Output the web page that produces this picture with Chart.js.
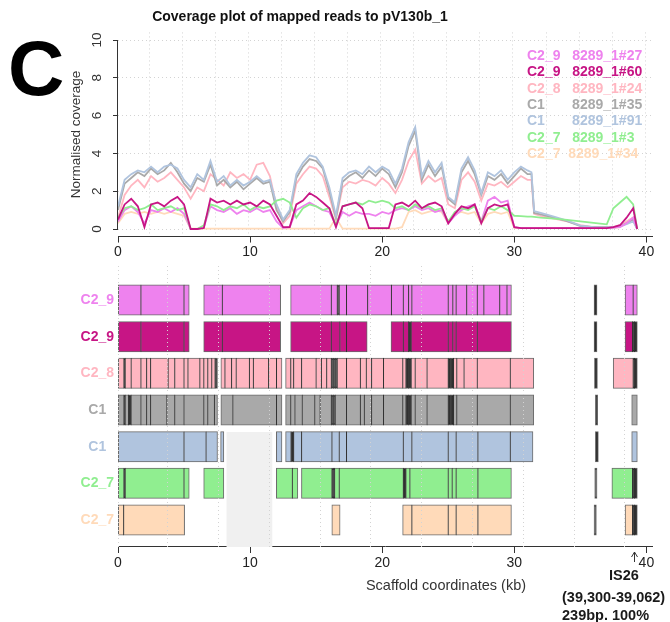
<!DOCTYPE html>
<html>
<head>
<meta charset="utf-8">
<title>Coverage plot of mapped reads to pV130b_1</title>
<script src="https://cdn.jsdelivr.net/npm/chart.js@4.4.1/dist/chart.umd.min.js"></script>
<style>
  html, body { margin: 0; padding: 0; background: #fff; }
  #fig { position: relative; width: 670px; height: 622px; overflow: hidden;
         font-family: "Liberation Sans", Arial, sans-serif; color: #222; }
  #fig canvas { position: absolute; left: 0; }
  #covChart { top: 0; }
  #blkChart { top: 262px; }
  .t { position: absolute; white-space: pre; line-height: 1; }
  #panel { left: 8px; top: 29px; font-size: 78px; font-weight: bold; color: #000; }
  #title { left: 150px; width: 300px; top: 9px; text-align: center; font-size: 14px; font-weight: bold; color: #111; }
  .leg { left: 527px; font-size: 14px; font-weight: bold; }
  #xlab { left: 346px; width: 200px; top: 578px; text-align: center; font-size: 14.5px; color: #333; }
  .is26 { font-size: 14.5px; font-weight: bold; color: #1a1a1a; }
  #isName { left: 574px; width: 100px; top: 568px; text-align: center; }
  #isRange { left: 562px; top: 590px; }
  #isInfo { left: 562px; top: 608px; }
</style>
</head>
<body>
<div id="fig">
  <canvas id="covChart" width="670" height="262"></canvas>
  <canvas id="blkChart" width="670" height="360"></canvas>
  <div class="t" id="panel">C</div>
  <div class="t" id="title">Coverage plot of mapped reads to pV130b_1</div>
  <div id="legend"></div>
  <div class="t" id="xlab">Scaffold coordinates (kb)</div>
  <div class="t is26" id="isName">IS26</div>
  <div class="t is26" id="isRange">(39,300-39,062)</div>
  <div class="t is26" id="isInfo">239bp. 100%</div>
</div>
<script>
/* ---------- samples / lanes ---------- */
const samples = ['C2_9', 'C2_9', 'C2_8', 'C1', 'C1', 'C2_7', 'C2_7'];
const lanes = ['8289_1#27', '8289_1#60', '8289_1#24', '8289_1#35', '8289_1#91', '8289_1#3', '8289_1#34'];
const laneColors = ['#EE82EE', '#C71585', '#FFB6C1', '#A9A9A9', '#B0C4DE', '#90EE90', '#FFDAB9'];
// legend lines, padded the way they were pasted together
const legendText = ['C2_9   8289_1#27', 'C2_9   8289_1#60', 'C2_8   8289_1#24', 'C1       8289_1#35',
                    'C1       8289_1#91', 'C2_7   8289_1#3', 'C2_7  8289_1#34'];
// which coverage line sits on top (0 = drawn last)
const drawOrder = [2, 0, 5, 4, 3, 1, 6];

/* ---------- axes ---------- */
const xTicks = [0, 10, 20, 30, 40];
const yTicks = [0, 2, 4, 6, 8, 10];
const covGridKb = [2.4, 4.9, 7.4, 9.9, 12.4, 14.9, 17.4, 19.9, 22.4, 24.9, 27.4, 29.9, 32.4, 34.9, 37.4, 39.9];
const blkGridKb = [0, 3.77, 7.61, 11.46, 15.3, 19.15, 23.0, 26.84, 30.69, 34.53, 38.38];

/* ---------- normalised coverage (kb positions + one array per lane) ---------- */
const kb = [0, 0.5, 1, 1.5, 2, 2.5, 3, 3.5, 4, 4.5, 5, 5.5, 6, 6.5, 7, 7.5, 8, 8.5, 9, 9.5,
            10, 10.5, 11, 11.5, 12, 12.5, 13, 13.5, 14, 14.5, 15, 15.5, 16, 16.5, 17, 17.5, 18, 18.5, 19, 19.5,
            20, 20.5, 21, 21.5, 22, 22.5, 23, 23.5, 24, 24.5, 25, 25.5, 26, 26.5, 27, 27.5, 28, 28.5, 29, 29.5,
            30, 30.5, 31, 31.3, 31.5, 32, 33, 34, 35, 36, 37, 37.5, 38, 38.5, 39, 39.3];

const cov27 = [0.4, 1.0, 1.2, 0.9, 0.3, 1.0, 0.9, 1.1, 0.9, 1.1,
               0.8, 0.0, 0.0, 0.1, 1.2, 1.0, 0.9, 1.1, 0.8, 1.0,
               0.9, 1.1, 0.9, 1.0, 0.4, 0.05, 0.1, 1.0, 1.2, 1.4,
               1.2, 1.0, 0.9, 0.2, 0.9, 0.7, 0.9, 0.8, 0.8, 0.7,
               0.9, 0.8, 1.0, 1.1, 1.0, 1.2, 1.0, 1.1, 0.9, 1.0,
               0.3, 0.7, 1.0, 1.2, 1.3, 0.4, 1.5, 1.7, 1.4, 1.5,
               0.1, 0.05, 0.05,
               0.05, 0.05, 0.05, 0.05, 0.05, 0.05, 0.05, 0.05, 0.08, 0.1, 0.3, 0.6, 0];
const cov60 = [0.5, 1.3, 1.6, 1.2, 0.1, 1.3, 1.4, 1.2, 1.5, 1.7,
               1.3, 0.0, 0.0, 0.05, 1.6, 1.4, 1.5, 1.3, 1.5, 1.3,
               1.4, 1.2, 1.5, 1.3, 0.7, 0.1, 0.1, 1.3, 1.5, 1.9,
               1.7, 1.4, 1.1, 0.1, 1.2, 1.3, 1.4, 1.1, 0.05, 0.05,
               0.05, 0.05, 1.3, 1.4, 1.2, 1.5, 1.1, 1.3, 1.4, 1.2,
               0.3, 0.8, 1.2, 1.1, 1.3, 0.3, 1.1, 1.3, 1.2, 1.3,
               0.1, 0.05, 0.05,
               0.05, 0.05, 0.05, 0.05, 0.05, 0.05, 0.05, 0.05, 0.1, 0.2, 0.6, 1.1, 0];
const cov24 = [0.6, 1.8, 2.3, 2.6, 2.2, 2.8, 2.5, 2.7, 3.0, 2.6,
               2.2, 1.6, 2.2, 2.0, 2.9, 2.6, 2.3, 3.0, 2.7, 2.9,
               2.6, 3.4, 3.5, 2.8, 1.2, 0.3, 0.7, 2.4, 2.9, 3.3,
               3.2, 2.8, 1.7, 0.5, 2.2, 2.5, 2.4, 2.6, 2.5, 2.3,
               2.7, 2.4, 1.9, 2.6, 3.6, 4.2, 2.4, 2.8, 2.5, 2.7,
               1.3, 1.1, 2.6, 3.0, 2.5, 1.5, 2.4, 2.3, 2.5, 2.2,
               2.5, 2.8, 2.6,
               2.6, 0.8, 0.7, 0.55, 0.4, 0.2, 0.1, 0.1, 0.1, 0.2, 0.4, 0.6, 0];
const cov35 = [1.0, 2.4, 2.7, 3.0, 2.8, 3.2, 2.9, 3.1, 3.5, 3.0,
               2.4, 2.0, 2.7, 2.5, 3.4, 2.3, 2.6, 2.2, 2.5, 2.1,
               2.4, 2.7, 2.4, 2.5, 1.0, 0.4, 0.9, 2.7, 3.3, 3.7,
               3.6, 3.2, 2.0, 0.6, 2.5, 2.8, 3.0, 2.7, 3.1, 2.8,
               3.2, 2.9, 2.2, 3.0, 4.4, 5.2, 2.6, 3.4, 2.8, 3.3,
               1.6, 1.3, 3.0, 3.6, 2.9, 1.8, 2.8, 2.6, 2.9, 2.4,
               2.8, 3.2, 2.9,
               2.9, 0.85, 0.78, 0.6, 0.42, 0.15, 0.1, 0.1, 0.1, 0.15, 0.3, 0.5, 0];
const cov91 = [1.2, 2.6, 2.9, 3.1, 3.0, 3.3, 3.0, 3.3, 3.4, 3.2,
               2.6, 2.2, 2.9, 2.6, 3.6, 2.5, 2.8, 2.3, 2.6, 2.3,
               2.5, 2.8, 2.5, 2.6, 1.3, 0.5, 1.0, 2.9, 3.5, 3.9,
               3.8, 3.3, 2.2, 0.7, 2.7, 3.0, 3.1, 2.9, 3.3, 3.0,
               3.3, 3.1, 2.4, 3.2, 4.6, 5.4, 2.8, 3.6, 3.0, 3.5,
               1.7, 1.4, 3.2, 3.8, 3.1, 1.9, 3.0, 2.8, 3.1, 2.6,
               3.0, 3.3, 3.1,
               3.0, 0.95, 0.85, 0.65, 0.45, 0.18, 0.1, 0.08, 0.08, 0.12, 0.25, 0.4, 0];
const cov3 = [0.6, 1.1, 1.2, 1.0, 1.1, 1.3, 1.0, 1.1, 1.2, 1.0,
              1.1, 0.0, 0.0, 0.2, 1.3, 1.2, 1.0, 1.2, 1.1, 1.3,
              1.0, 1.2, 1.1, 1.2, 1.5, 1.6, 1.4, 0.6, 1.1, 1.3,
              1.2, 1.0, 1.1, 0.2, 1.2, 1.3, 1.4, 1.3, 1.5, 1.4,
              1.5, 1.4, 1.1, 1.2, 1.0, 1.3, 1.1, 1.2, 1.0, 1.1,
              0.4, 0.9, 1.1, 1.0, 1.2, 0.4, 1.1, 1.0, 1.2, 1.0,
              0.7, 0.68, 0.66,
              0.65, 0.64, 0.6, 0.55, 0.48, 0.4, 0.32, 0.25, 1.1, 1.4, 1.7, 1.3, 0];
const cov34 = [0.3, 0.8, 0.9, 0.8, 0.9, 0.8, 0.9, 0.8, 0.9, 0.8,
               0.7, 0.02, 0.02, 0.02, 0.02, 0.02, 0.02, 0.02, 0.02, 0.02,
               0.02, 0.02, 0.02, 0.02, 0.02, 0.02, 0.02, 0.02, 0.02, 0.02,
               0.02, 0.02, 0.02, 0.6, 0.02, 0.02, 0.02, 0.02, 0.02, 0.02,
               0.02, 0.02, 0.02, 0.1, 0.9, 1.0, 0.8, 0.9, 1.0, 0.9,
               0.3, 0.8, 0.9, 0.8, 0.9, 0.3, 0.8, 0.9, 0.8, 0.9,
               0.05, 0.05, 0.05,
               0.05, 0.05, 0.05, 0.05, 0.05, 0.05, 0.05, 0.05, 0.05, 0.1, 0.4, 0.6, 0];
const coverage = [cov27, cov60, cov24, cov35, cov91, cov3, cov34];

/* ---------- mapped blocks per lane, [start, end] in kb ---------- */
const seg27 = [[0, 1.74], [1.74, 5.0], [5.0, 5.38],
  [6.5, 7.9], [7.9, 12.3],
  [13.08, 16.15], [16.15, 16.6], [16.6, 16.75], [16.75, 17.3], [17.3, 18.9], [18.9, 20.7], [20.7, 21.6],
  [21.6, 22.0], [22.0, 22.25], [22.25, 25.0], [25.0, 25.35], [25.35, 25.6], [25.6, 26.4], [26.4, 27.2],
  [27.2, 27.7], [27.7, 28.9], [28.9, 29.45], [29.45, 29.77],
  [36.05, 36.25],
  [38.4, 39.0], [39.0, 39.3]];
const seg60 = [[0, 1.74], [1.74, 5.0], [5.0, 5.38],
  [6.5, 7.9], [7.9, 12.3],
  [13.08, 16.15], [16.15, 16.8], [16.8, 17.3], [17.3, 18.85],
  [20.68, 21.6], [21.6, 22.0], [22.0, 22.2], [22.2, 25.0], [25.0, 25.35], [25.35, 25.6], [25.6, 27.2], [27.2, 29.77],
  [36.05, 36.25],
  [38.4, 38.95], [38.95, 39.1], [39.1, 39.3]];
const seg24 = [[0, 0.45], [0.45, 0.55], [0.55, 1.0], [1.0, 1.74], [1.74, 2.17], [2.17, 2.47], [2.47, 3.8], [3.8, 4.3],
  [4.3, 5.0], [5.0, 5.3], [5.3, 6.2], [6.2, 6.5], [6.5, 6.8], [6.8, 7.1], [7.1, 7.35], [7.35, 7.52],
  [7.8, 8.1], [8.1, 8.6], [8.6, 8.95], [8.95, 9.95], [9.95, 10.25], [10.25, 11.4], [11.4, 12.0], [12.0, 12.4],
  [12.7, 13.08], [13.08, 13.3], [13.3, 13.9], [13.9, 15.0], [15.0, 15.4], [15.4, 15.8], [15.8, 16.15], [16.15, 16.3],
  [16.3, 16.45], [16.45, 16.6], [16.6, 17.3], [17.3, 18.35], [18.35, 18.8], [18.8, 19.2], [19.2, 20.1], [20.1, 21.56],
  [21.56, 21.8], [21.8, 22.0], [22.0, 22.2], [22.2, 22.5], [22.5, 23.4], [23.4, 25.0], [25.0, 25.2], [25.2, 25.4],
  [25.4, 25.65], [25.65, 26.2], [26.2, 27.2], [27.2, 29.7], [29.7, 31.46],
  [36.08, 36.28],
  [37.5, 39.0], [39.0, 39.1], [39.1, 39.3]];
const seg35 = [[0, 0.45], [0.45, 0.55], [0.55, 0.8], [0.8, 1.0], [1.0, 1.74], [1.74, 2.17], [2.17, 2.47], [2.47, 3.7],
  [3.7, 4.3], [4.3, 5.0], [5.0, 6.5], [6.5, 6.8], [6.8, 7.3], [7.3, 7.52],
  [7.8, 8.7], [8.7, 12.0], [12.0, 12.4],
  [12.7, 13.08], [13.08, 13.4], [13.4, 13.95], [13.95, 14.9], [14.9, 15.3], [15.3, 16.15], [16.15, 16.3], [16.3, 16.45],
  [16.45, 17.3], [17.3, 18.35], [18.35, 18.65], [18.65, 19.2], [19.2, 20.1], [20.1, 21.56], [21.56, 21.8], [21.8, 22.0],
  [22.0, 22.2], [22.2, 22.5], [22.5, 23.4], [23.4, 25.0], [25.0, 25.2], [25.2, 25.4], [25.4, 25.65], [25.65, 27.2],
  [27.2, 29.7], [29.7, 31.46],
  [36.15, 36.3],
  [38.9, 39.3]];
const seg91 = [[0, 5.0], [5.0, 6.67], [6.67, 7.52],
  [7.78, 8.0],
  [12.0, 12.4],
  [12.7, 13.1], [13.1, 13.3], [13.3, 13.9], [13.9, 16.2], [16.2, 16.75], [16.75, 17.3], [17.3, 21.6], [21.6, 22.25],
  [22.25, 25.0], [25.0, 25.6], [25.6, 27.25], [27.25, 29.7], [29.7, 31.4],
  [36.15, 36.35],
  [38.9, 39.3]];
const seg3 = [[0, 0.45], [0.45, 0.55], [0.55, 5.0], [5.0, 5.38],
  [6.5, 8.0],
  [12.0, 13.2], [13.2, 13.6],
  [13.9, 16.2], [16.2, 16.3], [16.3, 16.4], [16.4, 16.75], [16.75, 21.6], [21.6, 21.8], [21.8, 22.1], [22.1, 25.0],
  [25.0, 25.3], [25.3, 25.6], [25.6, 27.25], [27.25, 29.77],
  [36.1, 36.25],
  [37.4, 38.95], [38.95, 39.1], [39.1, 39.3]];
const seg34 = [[0, 0.43], [0.43, 5.03],
  [16.2, 16.8],
  [21.56, 22.25], [22.25, 25.0], [25.0, 25.6], [25.6, 27.25], [27.25, 29.77],
  [36.05, 36.2],
  [38.4, 38.95], [38.95, 39.1], [39.1, 39.3]];
const blocks = [seg27, seg60, seg24, seg35, seg91, seg3, seg34];

// masked region drawn over the lower lanes (kb span, row span)
const blankKb = [8.2, 11.7];
const blankRows = [4.6, 7.9];
// IS26 hit
const is26Kb = [39.062, 39.3];

Chart.defaults.font.family = '"Liberation Sans", Arial, sans-serif';
Chart.defaults.color = '#222';

/* R-like axis lines: x along the whole plot, y only between its end ticks */
const rAxes = {
  id: 'rAxes',
  beforeDatasetsDraw(chart, args, opts) {
    const {ctx, chartArea: a, scales} = chart;
    ctx.save();
    ctx.strokeStyle = '#333';
    ctx.lineWidth = 1;
    ctx.beginPath();
    const yb = Math.round(a.bottom) - 0.5;
    ctx.moveTo(a.left, yb);
    ctx.lineTo(a.right, yb);
    if (opts.yAxis) {
      const x0 = Math.round(a.left) - 0.5;
      ctx.moveTo(x0, scales.y.getPixelForValue(yTicks[0]));
      ctx.lineTo(x0, scales.y.getPixelForValue(yTicks[yTicks.length - 1]));
    }
    ctx.stroke();
    ctx.restore();
  }
};

const is26Arrow = {
  id: 'is26Arrow',
  afterDraw(chart) {
    const {ctx, chartArea: a, scales: {x}} = chart;
    const px = Math.round(x.getPixelForValue(is26Kb[0])) + 0.5;
    const tip = a.bottom + 5, tail = a.bottom + 15;
    ctx.save();
    ctx.strokeStyle = '#333';
    ctx.lineWidth = 1;
    ctx.beginPath();
    ctx.moveTo(px, tail); ctx.lineTo(px, tip);
    ctx.moveTo(px - 3, tip + 5); ctx.lineTo(px, tip); ctx.lineTo(px + 3, tip + 5);
    ctx.stroke();
    ctx.restore();
  }
};

// keep the layout from reserving room for half-labels at the axis ends
const noEdgePadding = s => { s.paddingTop = 0; s.paddingBottom = 0; s.paddingLeft = 0; s.paddingRight = 0; };

const dotted = { color: '#d3d3d3', lineWidth: 1 };

/* ---------- top: coverage lines ---------- */
new Chart(document.getElementById('covChart'), {
  type: 'line',
  data: {
    datasets: coverage.map((vals, i) => ({
      label: samples[i] + ' ' + lanes[i],
      data: kb.map((x, j) => ({ x, y: vals[j] })),
      borderColor: laneColors[i],
      borderWidth: 1.8,
      pointRadius: 0,
      tension: 0,
      order: drawOrder[i]
    }))
  },
  options: {
    responsive: false,
    animation: false,
    events: [],
    layout: { padding: { left: 68, top: 32.44, right: 17, bottom: 0 } },
    plugins: { legend: { display: false }, tooltip: { enabled: false }, rAxes: { yAxis: true } },
    scales: {
      x: {
        type: 'linear', min: 0, max: 40.5, position: 'bottom',
        afterBuildTicks: s => { s.ticks = xTicks.map(v => ({ value: v })); },
        afterFit: s => { s.height = 25.44; noEdgePadding(s); },
        grid: { drawOnChartArea: false, tickLength: 6, tickColor: '#333' },
        border: { display: false },
        ticks: { color: '#222', font: { size: 14 }, padding: 1, maxRotation: 0, autoSkip: false }
      },
      xg: {
        type: 'linear', min: 0, max: 40.5, position: 'bottom',
        afterBuildTicks: s => { s.ticks = covGridKb.map(v => ({ value: v })); },
        afterFit: s => { s.height = 0; noEdgePadding(s); },
        ticks: { display: false },
        grid: { ...dotted, drawTicks: false },
        border: { display: false, dash: [1, 3] }
      },
      y: {
        min: -0.4, max: 10.4,
        afterBuildTicks: s => { s.ticks = yTicks.map(v => ({ value: v })); },
        afterFit: s => { s.width = 50; noEdgePadding(s); },
        grid: { ...dotted, tickColor: '#333', tickLength: 5 },
        border: { display: false, dash: [1, 3] },
        ticks: { color: '#333', font: { size: 13.5 }, minRotation: 90, maxRotation: 90,
                 crossAlign: 'center', padding: 8, autoSkip: false },
        title: { display: true, text: 'Normalised coverage', color: '#333', font: { size: 13.5 }, padding: 0 }
      }
    }
  },
  plugins: [rAxes]
});

/* ---------- bottom: mapped blocks per lane ---------- */
// very short blocks end up as solid dark ticks, the way the outlines swallow them
const narrowKb = 0.21;
const blockSets = blocks.map((segs, r) => ({
  type: 'bar',
  indexAxis: 'y',
  data: segs.map(s => ({ x: s, y: r + 1 })),
  backgroundColor: c => {
    const s = segs[c.dataIndex];
    return s && s[1] - s[0] < narrowKb ? 'rgba(20,20,20,0.8)' : laneColors[r];
  },
  borderColor: 'rgba(15,15,15,0.62)',
  borderWidth: 1,
  borderSkipped: false,
  inflateAmount: 0.5,
  barThickness: 30,
  grouped: false,
  order: 1
}));

new Chart(document.getElementById('blkChart'), {
  type: 'bar',
  data: {
    datasets: [{
      type: 'line',
      data: blankKb.map(x => ({ x, y: blankRows[0] })),
      fill: { value: blankRows[1] },
      backgroundColor: '#f0f0f0',
      borderColor: 'rgba(0,0,0,0)',
      borderWidth: 0,
      pointRadius: 0,
      order: 0
    }, ...blockSets]
  },
  options: {
    responsive: false,
    animation: false,
    events: [],
    layout: { padding: { left: 0, top: 4, right: 17, bottom: 0 } },
    plugins: { legend: { display: false }, tooltip: { enabled: false }, rAxes: { yAxis: false } },
    scales: {
      x: {
        type: 'linear', min: 0, max: 40.5, position: 'bottom', offset: false,
        afterBuildTicks: s => { s.ticks = xTicks.map(v => ({ value: v })); },
        afterFit: s => { s.height = 75; noEdgePadding(s); },
        grid: { drawOnChartArea: false, tickLength: 6, tickColor: '#333', offset: false },
        border: { display: false },
        ticks: { color: '#222', font: { size: 14 }, padding: 2, maxRotation: 0, autoSkip: false }
      },
      xg: {
        type: 'linear', min: 0, max: 40.5, position: 'bottom', offset: false,
        afterBuildTicks: s => { s.ticks = blkGridKb.map(v => ({ value: v })); },
        afterFit: s => { s.height = 0; noEdgePadding(s); },
        ticks: { display: false },
        grid: { ...dotted, drawTicks: false, offset: false, z: 1 },
        border: { display: false, dash: [1, 3] }
      },
      y: {
        type: 'linear', reverse: true, min: 0.0727, max: 7.736, offset: false,
        afterBuildTicks: s => { s.ticks = samples.map((_, i) => ({ value: i + 1 })); },
        afterFit: s => { s.width = 118; noEdgePadding(s); },
        grid: { display: false, drawTicks: false, offset: false },
        border: { display: false },
        ticks: {
          autoSkip: false, crossAlign: 'center', padding: 4,
          font: { size: 14, weight: 'bold' },
          color: c => laneColors[c.index],
          callback: (v, i) => samples[i]
        }
      }
    }
  },
  plugins: [rAxes, is26Arrow]
});

/* ---------- legend ---------- */
const legend = document.getElementById('legend');
legendText.forEach((txt, i) => {
  const d = document.createElement('div');
  d.className = 't leg';
  d.style.top = (48 + 16.3 * i) + 'px';
  d.style.color = laneColors[i];
  d.textContent = txt;
  legend.appendChild(d);
});
</script>
</body>
</html>
